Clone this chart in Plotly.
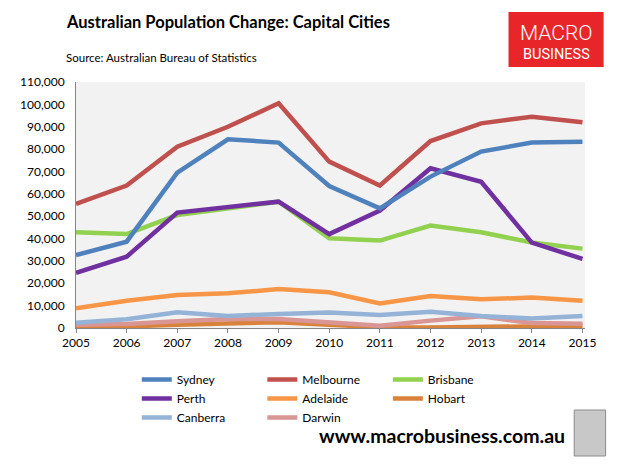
import plotly.graph_objects as go

# ------------------------------------------------------------
# Data
# ------------------------------------------------------------
years = [2005, 2006, 2007, 2008, 2009, 2010, 2011, 2012, 2013, 2014, 2015]

sydney = [32600, 38600, 69500, 84400, 82900, 63500, 53500, 67700, 78900, 82900, 83300]
melbourne = [55500, 63700, 81100, 90000, 100500, 74400, 63700, 83600, 91500, 94500, 92000]
brisbane = [42800, 42000, 50500, 53500, 56500, 40100, 39100, 45800, 42800, 38200, 35500]
perth = [24700, 31900, 51600, 54300, 56500, 42000, 52500, 71400, 65400, 38200, 30900]
adelaide = [8800, 12200, 14800, 15500, 17400, 16000, 11000, 14300, 12800, 13600, 12200]
hobart = [600, 700, 1500, 2300, 2600, 1500, 300, 200, 500, 800, 1000]
canberra = [2400, 3900, 7000, 5400, 6300, 6900, 5800, 7300, 5400, 4200, 5400]
darwin = [1500, 1800, 3000, 4000, 4000, 2500, 1000, 3300, 5200, 2200, 1900]

y_ticks = list(range(0, 110001, 10000))

series = [
    ("Sydney", sydney, "#4F81BD", "legend"),
    ("Melbourne", melbourne, "#C0504D", "legend2"),
    ("Brisbane", brisbane, "#92D050", "legend3"),
    ("Perth", perth, "#7030A0", "legend"),
    ("Adelaide", adelaide, "#F79646", "legend2"),
    ("Hobart", hobart, "#D9823B", "legend3"),
    ("Canberra", canberra, "#95B3D7", "legend"),
    ("Darwin", darwin, "#D99694", "legend2"),
]

FONT = "Lato"

# page body adds an 8px offset, so the figure is laid out 8px up/left
W, H = 612, 456
L, T, PW, PH = 58, 74, 519, 246


def px(x):
    """page x pixel -> paper fraction"""
    return (x - 8 - L) / PW


def py(y):
    """page y pixel -> paper fraction"""
    return 1 - (y - 8 - T) / PH


fig = go.Figure()

# draw order: small series first so the big lines sit on top
draw_order = ["Hobart", "Darwin", "Canberra", "Adelaide", "Brisbane", "Perth", "Sydney", "Melbourne"]
lookup = {s[0]: s for s in series}
rank = {name: i for i, (name, *_rest) in enumerate(series)}

for name in draw_order:
    _, vals, colour, leg = lookup[name]
    fig.add_trace(
        go.Scatter(
            x=years,
            y=vals,
            name=name,
            mode="lines",
            line=dict(color=colour, width=4.5),
            legend=leg,
            legendrank=rank[name],
        )
    )

legend_style = dict(
    orientation="v",
    xref="paper",
    yref="paper",
    yanchor="top",
    xanchor="left",
    font=dict(family=FONT, size=12, color="#000000"),
    bgcolor="rgba(0,0,0,0)",
    tracegroupgap=0,
    itemwidth=30,
    traceorder="normal",
)

fig.update_layout(
    width=W,
    height=H,
    margin=dict(l=L, r=W - L - PW, t=T, b=H - T - PH),
    paper_bgcolor="#FFFFFF",
    plot_bgcolor="#F2F2F2",
    showlegend=True,
    legend=dict(legend_style, x=px(128), y=py(365)),
    legend2=dict(legend_style, x=px(256), y=py(365)),
    legend3=dict(legend_style, x=px(384), y=py(365)),
    xaxis=dict(
        range=[2005, 2015.05],
        tickvals=years,
        ticktext=[str(y) for y in years],
        showgrid=False,
        zeroline=False,
        showline=True,
        linecolor="#868686",
        linewidth=1,
        ticks="outside",
        ticklen=4,
        tickcolor="#868686",
        tickfont=dict(family=FONT, size=12, color="#000000"),
    ),
    yaxis=dict(
        range=[0, 110000],
        tickvals=y_ticks,
        tickformat=",d",
        showgrid=False,
        zeroline=False,
        showline=True,
        linecolor="#868686",
        linewidth=1,
        ticks="",
        ticklabelstandoff=8,
        tickfont=dict(family=FONT, size=12, color="#000000"),
    ),
)

# Title and source
fig.add_annotation(
    text="<b>Australian Population Change: Capital Cities</b>",
    xref="paper", yref="paper", x=px(54), y=py(22),
    xanchor="left", yanchor="middle", showarrow=False,
    font=dict(family=FONT, size=16.5, color="#000000"),
)
fig.add_annotation(
    text="Source: Australian Bureau of Statistics",
    xref="paper", yref="paper", x=px(54), y=py(57),
    xanchor="left", yanchor="middle", showarrow=False,
    font=dict(family=FONT, size=11.5, color="#000000"),
)

# MacroBusiness logo box
fig.add_shape(
    type="rect", xref="paper", yref="paper",
    x0=px(507), x1=px(604), y0=py(67), y1=py(12),
    fillcolor="#E8262A", line=dict(width=0), layer="above",
)
fig.add_annotation(
    text="MACRO", xref="paper", yref="paper",
    x=px(556), y=py(33),
    showarrow=False, xanchor="center", yanchor="middle",
    font=dict(family="Roboto", size=21, color="#FFFFFF", weight=300),
)
fig.add_annotation(
    text="BUSINESS", xref="paper", yref="paper",
    x=px(556), y=py(54),
    showarrow=False, xanchor="center", yanchor="middle",
    font=dict(family="Roboto", size=14.5, color="#FFFFFF"),
)

# Footer
fig.add_annotation(
    text="<b>www.macrobusiness.com.au</b>",
    xref="paper", yref="paper",
    x=px(567), y=py(435),
    showarrow=False, xanchor="right", yanchor="middle",
    font=dict(family=FONT, size=19.5, color="#000000"),
)
fig.add_shape(
    type="rect", xref="paper", yref="paper",
    x0=px(574), x1=px(606), y0=py(456), y1=py(410),
    fillcolor="#C8C8C8", line=dict(color="#8C8C8C", width=1),
)

fig.write_html("out.html")
